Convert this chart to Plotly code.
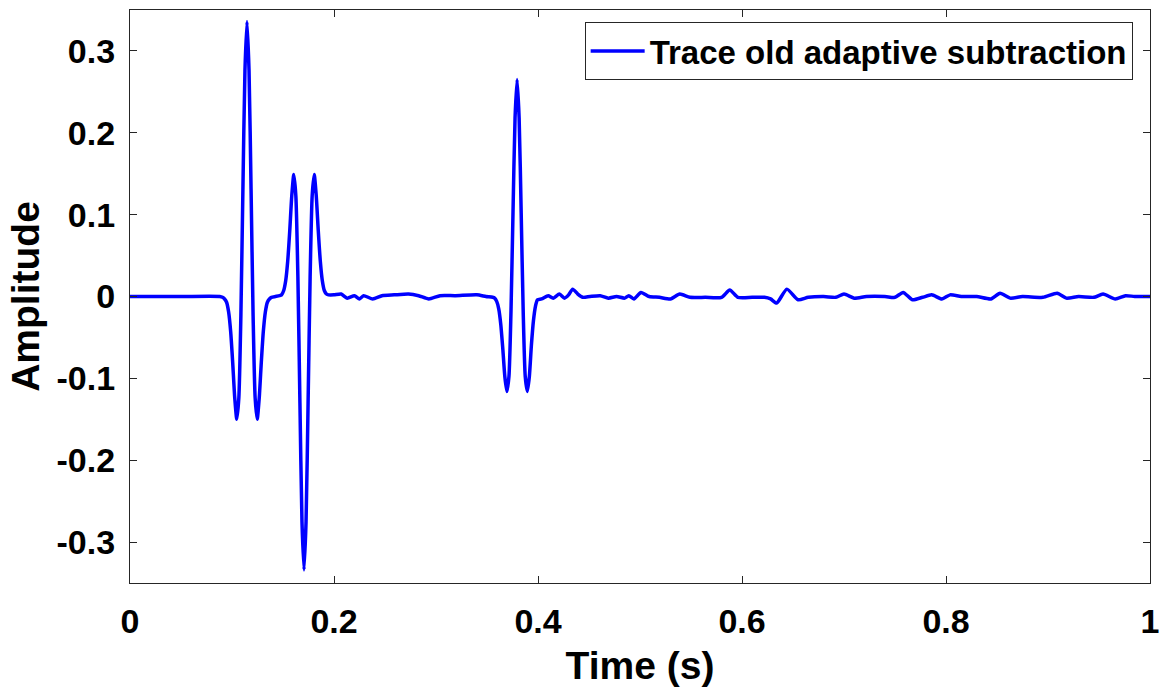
import plotly.graph_objects as go

# time (s) and amplitude
time_s = [
    0.000, 0.050, 0.0880, 0.0907, 0.0927, 0.0947, 0.0967, 0.0987, 0.1007, 0.1027,
    0.1047, 0.1067, 0.1087, 0.1107, 0.1127, 0.1147, 0.1167, 0.1187, 0.1207, 0.1227,
    0.1247, 0.1267, 0.1287, 0.1307, 0.1327, 0.1347, 0.1367, 0.1387, 0.1426, 0.1466,
    0.1486, 0.1506, 0.1526, 0.1546, 0.1566, 0.1586, 0.1606, 0.1626, 0.1646, 0.1666,
    0.1686, 0.1706, 0.1726, 0.1746, 0.1766, 0.1786, 0.1806, 0.1826, 0.1846, 0.1866,
    0.1886, 0.1906, 0.1926, 0.1946,
    0.200, 0.207, 0.213, 0.220, 0.225, 0.229, 0.238, 0.247, 0.259, 0.273,
    0.283, 0.293, 0.304, 0.319, 0.340, 0.349,
    0.3555, 0.3575, 0.3595, 0.3615, 0.3635, 0.3655, 0.3675, 0.3695, 0.3715, 0.3735,
    0.3755, 0.3775, 0.3795, 0.3815, 0.3835, 0.3855, 0.3875, 0.3895, 0.3915, 0.3935,
    0.3955, 0.3975, 0.3995,
    0.4035, 0.410, 0.415, 0.421, 0.426, 0.430, 0.434, 0.439, 0.444, 0.451,
    0.461, 0.469, 0.477, 0.485, 0.489, 0.494, 0.501, 0.509, 0.519, 0.530,
    0.539, 0.549, 0.564, 0.580, 0.588, 0.596, 0.610, 0.622, 0.628, 0.634,
    0.644, 0.655, 0.665, 0.680, 0.692, 0.700, 0.710, 0.722, 0.740, 0.750,
    0.758, 0.767, 0.777, 0.786, 0.796, 0.804, 0.815, 0.830, 0.844, 0.853,
    0.863, 0.875, 0.895, 0.909, 0.918, 0.930, 0.945, 0.954, 0.966, 0.976,
    0.985, 1.000,
]
amplitude = [
    0.000, 0.000, 0.000, -0.001, -0.003, -0.007, -0.019, -0.043, -0.081, -0.124,
    -0.150, -0.124, -0.024, 0.131, 0.276, 0.336, 0.276, 0.131, -0.024, -0.124,
    -0.150, -0.124, -0.081, -0.043, -0.019, -0.007, -0.003, -0.001, 0.000, 0.001,
    0.002, 0.007, 0.019, 0.043, 0.080, 0.123, 0.149, 0.123, 0.024, -0.130,
    -0.275, -0.334, -0.275, -0.130, 0.024, 0.123, 0.149, 0.123, 0.080, 0.043,
    0.019, 0.007, 0.003, 0.002,
    0.002, 0.003, -0.002, 0.001, -0.003, 0.001, -0.003, 0.001, 0.002, 0.003,
    0.001, -0.003, 0.001, 0.001, 0.002, 0.000,
    -0.001, -0.002, -0.006, -0.015, -0.034, -0.064, -0.098, -0.116, -0.098, -0.019,
    0.103, 0.218, 0.265, 0.218, 0.103, -0.019, -0.098, -0.116, -0.098, -0.060,
    -0.030, -0.012, -0.004,
    -0.003, 0.001, -0.002, 0.003, -0.002, 0.002, 0.009, 0.003, -0.001, 0.000,
    0.001, -0.002, 0.000, -0.002, 0.001, -0.003, 0.005, 0.000, -0.001, -0.003,
    0.003, -0.001, -0.001, -0.001, 0.008, -0.001, -0.001, -0.001, -0.003, -0.008,
    0.009, -0.004, -0.001, 0.000, -0.001, 0.003, -0.002, 0.000, 0.000, -0.001,
    0.005, -0.004, -0.001, 0.002, -0.003, 0.002, 0.000, 0.000, -0.003, 0.004,
    -0.002, 0.000, -0.001, 0.004, -0.002, 0.000, -0.001, 0.003, -0.003, 0.001,
    0.000, 0.000,
]

x_ticks = [0, 0.2, 0.4, 0.6, 0.8, 1]
x_tick_labels = ["0", "0.2", "0.4", "0.6", "0.8", "1"]
y_ticks = [-0.3, -0.2, -0.1, 0, 0.1, 0.2, 0.3]
y_tick_labels = ["-0.3", "-0.2", "-0.1", "0", "0.1", "0.2", "0.3"]

font_family = "Liberation Sans, Arial, sans-serif"
frame_color = "#262626"

fig = go.Figure()
fig.add_trace(go.Scatter(
    x=time_s,
    y=amplitude,
    mode="lines",
    line=dict(color="#0000FF", width=3.5, shape="spline", smoothing=0.6),
    name="Trace old adaptive subtraction",
))

axis_common = dict(
    showgrid=False,
    zeroline=False,
    showline=True,
    linecolor=frame_color,
    linewidth=1.2,
    mirror="ticks",
    ticks="inside",
    ticklen=7,
    tickcolor=frame_color,
    automargin=False,
    tickfont=dict(family=font_family, size=34, color="black", weight="bold"),
)

fig.update_layout(
    width=1161,
    height=690,
    margin=dict(l=130, r=11, t=10, b=107),
    plot_bgcolor="white",
    paper_bgcolor="white",
    font=dict(family=font_family, color="black"),
    showlegend=True,
    legend=dict(
        x=0.983, y=0.979, xanchor="right", yanchor="top",
        bgcolor="white",
        bordercolor=frame_color, borderwidth=1,
        font=dict(family=font_family, size=33, color="black", weight="bold"),
        itemwidth=54,
    ),
    xaxis=dict(
        range=[0, 1],
        tickvals=x_ticks,
        ticktext=x_tick_labels,
        ticklabelstandoff=8,
        title=dict(text="Time (s)", standoff=12,
                   font=dict(family=font_family, size=39, color="black", weight="bold")),
        **axis_common,
    ),
    yaxis=dict(
        range=[-0.35, 0.35],
        tickvals=y_ticks,
        ticktext=y_tick_labels,
        ticklabelstandoff=7,
        title=dict(text="Amplitude", standoff=4,
                   font=dict(family=font_family, size=39, color="black", weight="bold")),
        **axis_common,
    ),
)

# drop the page's default body margin so the figure sits at the window's corner
fig.write_html(
    "out.html",
    config={"displayModeBar": False},
    post_script="document.body.style.margin='0';",
)
